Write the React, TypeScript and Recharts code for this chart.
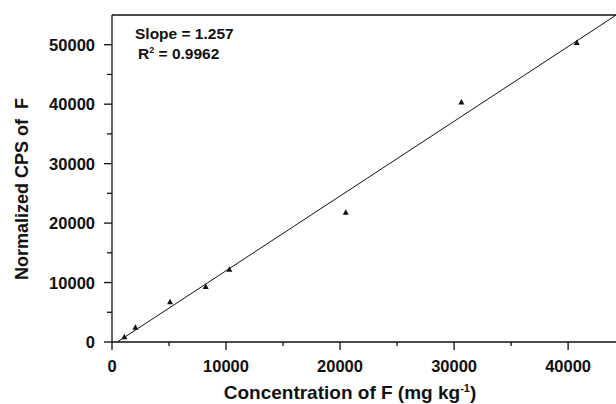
import React from 'react';
import { ScatterChart, Scatter, XAxis, YAxis, ReferenceLine, Customized } from 'recharts';

// measured points (concentration, normalized CPS)
const concentration = [1080, 2050, 5090, 8220, 10290, 20500, 30640, 40760];
const normalizedCps = [800, 2400, 6670, 9240, 12150, 21730, 40280, 50300];

// regression line endpoints (slope 1.257)
const fitX = [465, 44200];
const fitY = [0, 54970];

const xTicks = [0, 5000, 10000, 15000, 20000, 25000, 30000, 35000, 40000];
const yTicks = [0, 5000, 10000, 15000, 20000, 25000, 30000, 35000, 40000, 45000, 50000];

const points = concentration.map((x, i) => ({ x, y: normalizedCps[i] }));
const fitLine = fitX.map((x, i) => ({ x, y: fitY[i] }));

const FONT = '"Liberation Sans", Arial, Helvetica, sans-serif';
const INK = '#111';

const XTick = (props: any) => {
    const { x, y, payload } = props;
    const major = payload.value % 10000 === 0;
    return (
        <g>
            <line x1={x} y1={y} x2={x} y2={y + (major ? 8 : 4)} stroke={INK} strokeWidth={1.3} />
            {major && (
                <text x={x} y={y + 30} textAnchor="middle" fontFamily={FONT} fontWeight="bold" fontSize={16.5} fill={INK}>
                    {payload.value}
                </text>
            )}
        </g>
    );
};

const YTick = (props: any) => {
    const { x, y, payload } = props;
    const major = payload.value % 10000 === 0;
    return (
        <g>
            <line x1={x} y1={y} x2={x - (major ? 8 : 5)} y2={y} stroke={INK} strokeWidth={1.3} />
            {major && (
                <text x={x - 17} y={y + 6} textAnchor="end" fontFamily={FONT} fontWeight="bold" fontSize={16.5} fill={INK}>
                    {payload.value}
                </text>
            )}
        </g>
    );
};

const Marker = (props: any) => {
    const { cx, cy } = props;
    return <polygon points={`${cx},${cy - 3.5} ${cx + 3},${cy + 2} ${cx - 3},${cy + 2}`} fill={INK} />;
};

const Annotations = () => (
    <g fontFamily={FONT} fontWeight="bold" fill={INK}>
        <text x={135} y={39} fontSize={15.5}>Slope = 1.257</text>
        <text x={138} y={59} fontSize={15.5}>
            R<tspan dy={-6} fontSize={9}>2</tspan><tspan dy={6}> = 0.9962</tspan>
        </text>
        <text x={350} y={399} textAnchor="middle" fontSize={19}>
            Concentration of F (mg kg<tspan dy={-7} fontSize={11}>-1</tspan><tspan dy={7}>)</tspan>
        </text>
        <text x={22} y={189} transform="rotate(-90 22 189)" textAnchor="middle" dominantBaseline="central" fontSize={18} style={{ whiteSpace: 'pre' }}>
            Normalized CPS of  F
        </text>
    </g>
);

export default function App() {
    return (
        <div style={{ position: 'absolute', left: 0, top: 0, background: '#fff' }}>
            <ScatterChart width={616} height={404} margin={{ top: 15, right: 0, bottom: 0, left: 0 }}>
                <XAxis
                    type="number"
                    dataKey="x"
                    domain={[0, 44200]}
                    ticks={xTicks}
                    interval={0}
                    tick={<XTick />}
                    tickLine={false}
                    tickSize={0}
                    tickMargin={0}
                    height={62}
                    axisLine={{ stroke: INK, strokeWidth: 1.3 }}
                    allowDataOverflow
                />
                <YAxis
                    type="number"
                    dataKey="y"
                    domain={[0, 55000]}
                    ticks={yTicks}
                    interval={0}
                    tick={<YTick />}
                    tickLine={false}
                    tickSize={0}
                    tickMargin={0}
                    width={112}
                    axisLine={{ stroke: INK, strokeWidth: 1.3 }}
                    allowDataOverflow
                />
                <ReferenceLine y={55000} stroke={INK} strokeWidth={1.3} ifOverflow="visible" />
                <Scatter data={fitLine} line={{ stroke: INK, strokeWidth: 1 }} shape={() => <g />} isAnimationActive={false} />
                <Scatter data={points} shape={<Marker />} isAnimationActive={false} />
                <Customized component={Annotations} />
            </ScatterChart>
        </div>
    );
}
